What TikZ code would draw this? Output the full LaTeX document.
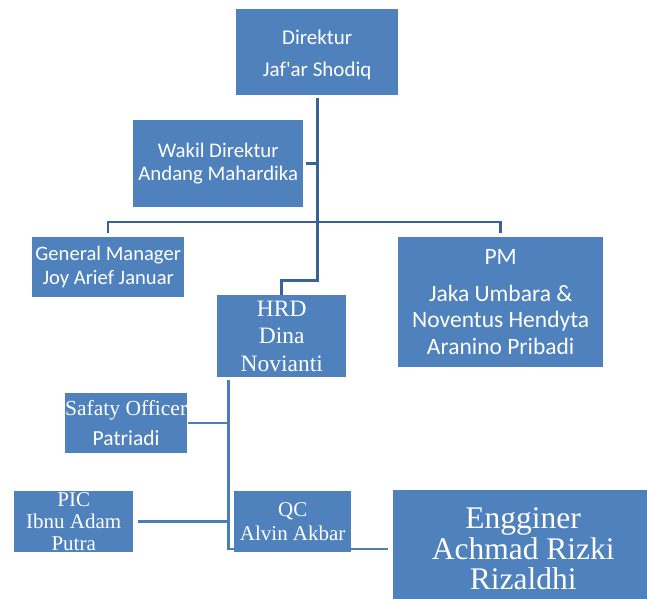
\documentclass[tikz,border=0pt]{standalone}
\usepackage{fontspec}
\setmainfont{Liberation Serif}
\newfontfamily\calibri{Carlito}
\usetikzlibrary{backgrounds, calc}
\definecolor{boxblue}{HTML}{4F81BD}
\definecolor{topline}{HTML}{3A6395}
\definecolor{lowline}{HTML}{4A7DBA}

\begin{document}
\begin{tikzpicture}[x=1pt, y=-1pt,
    orgbox/.style={fill=boxblue, text=white, inner sep=0pt, align=center, anchor=north west},
    upper/.style={draw=topline, line width=3pt},
    lower/.style={draw=lowline, line width=2.5pt}]
  \useasboundingbox (0,0) rectangle (647,598);

  % board
  \node[orgbox, minimum width=162pt, minimum height=86pt, font=\calibri\fontsize{21}{32}\selectfont] (dir) at (236,9) {\rule{0pt}{19pt}Direktur\\Jaf'ar Shodiq};
  \node[orgbox, minimum width=170pt, minimum height=87pt, font=\calibri\fontsize{20.8}{23}\selectfont] (wakil) at (133,120) {Wakil Direktur\\Andang Mahardika};
  \node[orgbox, minimum width=152pt, minimum height=60pt, font=\calibri\fontsize{20.6}{24}\selectfont] (gm) at (32,237) {General Manager\\Joy Arief Januar};
  \node[orgbox, minimum width=205pt, minimum height=130pt, font=\calibri\fontsize{23.5}{26.5}\selectfont] (pm) at (398,237) {PM\\[10pt]Jaka Umbara \&\\Noventus Hendyta\\Aranino Pribadi};
  \node[orgbox, minimum width=129pt, minimum height=82pt, font=\fontsize{23.5}{27.5}\selectfont] (hrd) at (217,295) {HRD\\Dina\\Novianti};

  % staff
  \node[orgbox, minimum width=122pt, minimum height=60pt, font=\fontsize{21.5}{30}\selectfont] (safety) at (65,393) {Safaty Officer\\{\calibri Patriadi}};
  \node[orgbox, minimum width=119pt, minimum height=61pt, font=\fontsize{21}{22}\selectfont] (pic) at (14,491) {PIC\\Ibnu Adam\\Putra};
  \node[orgbox, minimum width=117pt, minimum height=61pt, font=\fontsize{21}{24}\selectfont] (qc) at (234,491) {QC\\Alvin Akbar};
  \node[orgbox, minimum width=260pt, minimum height=118pt, font=\fontsize{31.5}{30.5}\selectfont] (eng) at (393,490) {Engginer\\Achmad Rizki\\Rizaldhi};

  \coordinate (bar) at (317,222);
  \coordinate (hrdbend) at (281,280);
  \coordinate (stafftop) at (228.5,380);
  \coordinate (staffbot) at (228.5,549);

  %upper lines
  \draw[upper] ([yshift=-3pt]dir.south) -- (dir.south |- hrdbend) -| (hrd.north);
  \draw[upper, line width=2.5pt] ([yshift=4pt]gm.north) |- (bar) -| ([yshift=4pt]pm.north);
  \draw[upper, line width=2.5pt] ([xshift=3pt]wakil.east) -- (wakil.east -| dir.south);

  %lower lines
  \begin{scope}[on background layer]
    \draw[lower] (stafftop) -- (staffbot) -- ([xshift=-5pt]eng.west |- staffbot);
  \end{scope}
  \draw[lower] ([xshift=1pt]safety.east) -- (safety.east -| stafftop);
  \draw[lower] ([xshift=5pt]pic.east) -- (pic.east -| stafftop);
\end{tikzpicture}
\end{document}
